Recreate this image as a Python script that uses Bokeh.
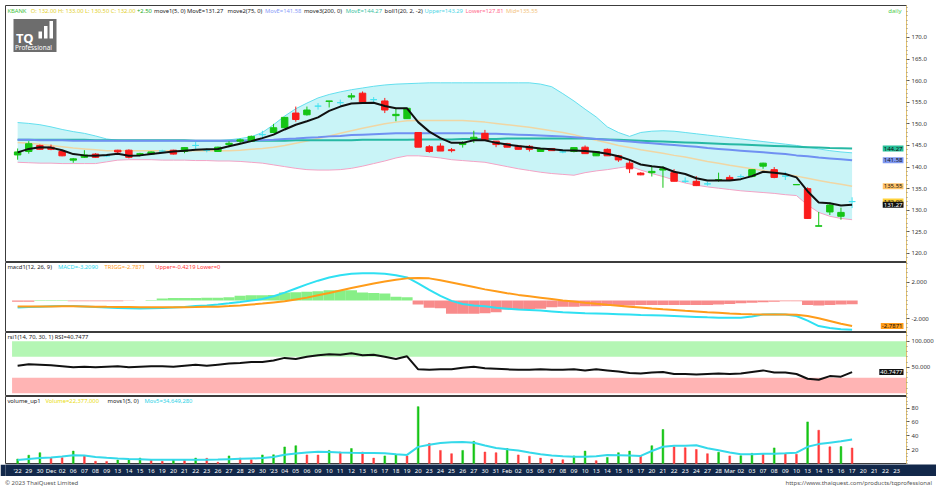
import numpy as np
from bokeh.plotting import figure
from bokeh.layouts import column
from bokeh.models import (Range1d, Label, FixedTicker, ColumnDataSource, PrintfTickFormatter,
                          BoxAnnotation, Div)
from bokeh.embed import file_html
from bokeh.resources import INLINE
from bokeh.core.properties import value

# ---------------- data ----------------
date_labels = ["'22", "29", "30", "Dec", "02", "06", "07", "08", "09", "13",
               "14", "15", "16", "19", "20", "21", "22", "23", "26", "27",
               "28", "29", "30", "'23", "04", "05", "06", "09", "10", "11",
               "12", "13", "16", "17", "18", "19", "20", "23", "24", "25",
               "26", "27", "30", "31", "Feb", "02", "03", "06", "07", "08",
               "09", "10", "13", "14", "15", "16", "17", "20", "21", "22",
               "23", "24", "27", "28", "Mar", "02", "03", "07", "08", "09",
               "10", "13", "14", "15", "16", "17", "20", "21", "22", "23"]

open_ = [142.8, 143.6, 145.0, 144.6, 143.6, 141.6, 142.25, 143.0, 142.6, 143.9,
         143.9, 142.9, 143.0, 143.7, 143.9, 143.6, 145.0, 143.9, 143.6, 145.2,
         146.0, 146.0, 147.5, 148.0, 149.1, 152.5, 152.1, 154.1, 155.2, 154.9,
         156.2, 157.1, 155.6, 155.3, 151.9, 151.2, 148.0, 144.7, 144.85, 144.0,
         145.2, 146.5, 147.8, 146.0, 145.4, 144.85, 144.8, 143.6, 144.3, 143.5,
         143.6, 144.6, 142.6, 144.1, 142.6, 140.9, 138.6, 138.7, 139.3, 138.7,
         136.7, 136.7, 136.1, 136.9, 137.6, 137.8, 137.8, 140.2, 139.4, 137.9,
         135.9, 135.0, 126.3, 129.6, 128.6, 132.0]
high = [144.3, 146.0, 145.2, 145.2, 143.8, 142.1, 143.9, 143.2, 142.9, 144.0,
        144.1, 143.3, 143.6, 144.0, 144.0, 144.6, 145.8, 144.4, 144.7, 146.0,
        146.6, 147.3, 148.4, 150.0, 151.6, 154.0, 154.0, 154.8, 155.3, 155.6,
        157.1, 157.5, 156.2, 156.0, 153.5, 153.6, 148.0, 145.1, 145.5, 144.4,
        146.0, 148.4, 148.6, 146.0, 145.6, 145.0, 145.1, 144.3, 144.4, 143.9,
        144.5, 145.0, 143.6, 144.3, 142.8, 141.5, 138.8, 140.3, 140.2, 139.5,
        137.6, 137.9, 136.6, 138.7, 138.1, 138.3, 139.4, 141.0, 140.0, 138.9,
        135.9, 135.3, 129.6, 131.8, 130.6, 133.0]
low = [141.7, 143.1, 144.0, 143.9, 142.5, 141.0, 142.1, 142.2, 142.3, 142.9,
       142.0, 142.5, 142.9, 143.4, 142.9, 143.2, 144.0, 143.4, 143.5, 144.6,
       145.5, 145.8, 146.6, 147.9, 149.0, 150.5, 151.9, 153.3, 153.8, 154.3,
       155.6, 155.0, 154.9, 152.5, 150.6, 151.2, 144.6, 143.3, 143.7, 143.4,
       144.5, 145.6, 146.3, 144.6, 144.6, 144.1, 143.6, 143.6, 143.8, 143.2,
       143.4, 143.1, 142.6, 142.6, 141.2, 138.6, 138.1, 137.8, 135.2, 136.7,
       136.3, 135.6, 135.7, 136.6, 136.9, 137.4, 137.6, 139.6, 137.4, 137.0,
       135.9, 128.0, 126.3, 128.9, 127.8, 130.5]
close = [143.5, 145.4, 144.1, 144.1, 142.6, 141.9, 142.8, 142.25, 142.6, 143.5,
         142.25, 143.1, 143.5, 143.7, 143.0, 144.5, 145.0, 143.9, 144.6, 145.5,
         146.3, 147.1, 147.5, 149.1, 151.5, 151.0, 153.2, 154.1, 155.3, 154.9,
         156.5, 155.0, 155.6, 153.2, 152.2, 153.6, 144.6, 143.6, 143.7, 143.8,
         145.6, 146.9, 146.3, 145.2, 144.6, 144.1, 144.1, 144.3, 143.8, 143.5,
         144.5, 143.1, 143.6, 142.6, 141.65, 139.6, 138.2, 139.0, 139.6, 136.7,
         136.7, 135.7, 136.1, 137.1, 136.9, 137.8, 139.4, 140.9, 137.6, 137.9,
         135.95, 128.1, 126.4, 131.2, 129.5, 132.0]

ma5 = [143.4, 144.2, 144.6, 144.5, 143.9, 143.0, 142.7, 142.6, 142.8, 143.1,
       142.6, 142.7, 143.0, 143.3, 143.6, 143.8, 144.0, 144.1, 144.2, 144.8,
       145.4, 146.0, 146.7, 147.5, 148.7, 149.8, 150.6, 151.5, 153.0, 154.0,
       154.7, 154.8, 154.9, 154.15, 153.6, 153.6, 150.4, 148.2, 146.7, 145.6,
       145.6, 146.2, 146.2, 145.6, 145.2, 144.85, 144.6, 144.3, 144.1, 143.9,
       143.85, 143.7, 143.5, 143.1, 142.5, 141.65, 140.6, 140.2, 139.9, 138.9,
       138.4, 137.4, 136.9, 136.9, 136.9, 137.2, 137.9, 138.9, 138.7, 138.4,
       137.6, 134.4, 131.8, 131.6, 131.1, 131.27]
ma75 = [146.3, 146.3, 146.2, 146.2, 146.2, 146.1, 146.1, 146.1, 146.1, 146.1,
        146.1, 146.1, 146.1, 146.1, 146.1, 146.1, 146.1, 146.1, 146.1, 146.1,
        146.1, 146.2, 146.2, 146.3, 146.5, 146.6, 146.8, 146.9, 147.1, 147.2,
        147.4, 147.5, 147.6, 147.7, 147.8, 147.8, 147.8, 147.8, 147.8, 147.8,
        147.8, 147.8, 147.7, 147.7, 147.6, 147.5, 147.4, 147.3, 147.2, 147.1,
        146.9, 146.7, 146.5, 146.3, 146.1, 145.9, 145.7, 145.5, 145.3, 145.1,
        144.9, 144.7, 144.4, 144.2, 144.0, 143.8, 143.6, 143.4, 143.2, 143.0,
        142.7, 142.5, 142.2, 142.0, 141.8, 141.58]
ma200 = [146.3, 146.3, 146.3, 146.3, 146.3, 146.3, 146.3, 146.2, 146.2, 146.2,
         146.2, 146.2, 146.2, 146.2, 146.2, 146.2, 146.1, 146.1, 146.1, 146.1,
         146.1, 146.1, 146.1, 146.1, 146.1, 146.2, 146.2, 146.2, 146.2, 146.2,
         146.2, 146.3, 146.3, 146.3, 146.3, 146.3, 146.4, 146.4, 146.4, 146.4,
         146.5, 146.5, 146.5, 146.5, 146.6, 146.6, 146.6, 146.6, 146.6, 146.6,
         146.6, 146.6, 146.5, 146.4, 146.3, 146.2, 146.1, 146.0, 145.9, 145.8,
         145.7, 145.6, 145.5, 145.4, 145.3, 145.2, 145.1, 145.0, 144.9, 144.8,
         144.7, 144.6, 144.5, 144.4, 144.35, 144.27]
boll_upper = [150.3, 150.1, 149.8, 149.3, 148.7, 148.2, 147.8, 147.2, 146.5, 146.2,
              146.1, 146.1, 146.1, 146.1, 146.1, 146.1, 146.1, 146.1, 146.1, 146.3,
              146.6, 147.0, 148.0, 149.8, 151.8, 153.5, 154.8, 156.0, 156.8, 157.4,
              157.9, 158.3, 158.7, 159.0, 159.2, 159.3, 159.4, 159.5, 159.5, 159.5,
              159.5, 159.5, 159.5, 159.5, 159.5, 159.5, 159.5, 159.2, 158.6, 157.0,
              155.3, 153.4, 151.6, 149.3, 148.0, 147.1, 148.0, 148.3, 148.4, 148.3,
              148.0, 147.7, 147.4, 147.1, 146.8, 146.5, 146.2, 145.9, 145.6, 145.3,
              145.0, 144.6, 144.2, 143.8, 143.5, 143.29]
boll_lower = [141.1, 141.0, 140.9, 140.9, 140.8, 140.8, 140.8, 140.8, 141.2, 141.6,
              141.7, 141.7, 141.7, 141.6, 141.6, 141.6, 141.5, 141.5, 141.4, 141.4,
              141.3, 141.1, 140.9, 140.5, 140.1, 139.7, 139.4, 139.3, 139.3, 139.4,
              139.7, 140.2, 140.8, 141.4, 142.1, 142.6, 142.6, 142.4, 142.1, 141.7,
              141.5, 141.3, 141.1, 140.6, 140.1, 139.6, 139.2, 138.8, 138.5, 138.3,
              138.1, 138.7, 139.1, 139.4, 139.8, 140.2, 139.3, 138.5, 137.8, 137.0,
              136.3, 135.8, 135.4, 135.1, 134.8, 134.5, 134.3, 134.1, 133.9, 133.6,
              133.4, 131.2, 129.5, 128.6, 128.1, 127.81]
boll_mid = [145.7, 145.5, 145.3, 145.0, 144.7, 144.4, 144.2, 144.0, 143.8, 143.8,
            143.8, 143.8, 143.8, 143.8, 143.8, 143.8, 143.8, 143.8, 143.8, 143.8,
            143.9, 144.1, 144.3, 144.6, 145.0, 145.5, 146.0, 146.6, 147.2, 147.8,
            148.4, 149.0, 149.5, 150.0, 150.4, 150.7, 150.8, 150.8, 150.8, 150.8,
            150.8, 150.6, 150.4, 150.1, 149.8, 149.5, 149.2, 148.8, 148.4, 148.0,
            147.5, 146.8, 146.2, 145.6, 145.0, 144.5, 144.0, 143.6, 143.2, 142.7,
            142.3, 141.8, 141.3, 140.9, 140.4, 140.0, 139.6, 139.2, 138.8, 138.3,
            137.9, 137.4, 136.9, 136.4, 136.0, 135.55]

macd = [-0.77, -0.72, -0.68, -0.64, -0.62, -0.62, -0.66, -0.72, -0.78, -0.82,
        -0.86, -0.88, -0.86, -0.82, -0.78, -0.72, -0.62, -0.55, -0.45, -0.32,
        -0.18, -0.02, 0.15, 0.45, 0.85, 1.3, 1.75, 2.15, 2.5, 2.75,
        2.9, 2.97, 2.97, 2.9, 2.75, 2.5, 1.85, 1.15, 0.5, -0.05,
        -0.4, -0.55, -0.65, -0.8, -0.9, -1.0, -1.05, -1.1, -1.2, -1.3,
        -1.35, -1.4, -1.42, -1.45, -1.5, -1.55, -1.6, -1.62, -1.65, -1.7,
        -1.75, -1.8, -1.85, -1.88, -1.9, -1.88, -1.75, -1.55, -1.5, -1.55,
        -1.7, -2.2, -2.8, -3.0, -3.15, -3.209]
trigg = [-0.67, -0.67, -0.66, -0.66, -0.65, -0.65, -0.66, -0.68, -0.7, -0.71,
         -0.72, -0.74, -0.75, -0.76, -0.76, -0.75, -0.73, -0.7, -0.68, -0.62,
         -0.55, -0.45, -0.35, -0.22, -0.1, 0.1, 0.3, 0.55, 0.8, 1.08,
         1.35, 1.6, 1.85, 2.05, 2.25, 2.4, 2.45, 2.4, 2.2, 1.95,
         1.7, 1.45, 1.2, 1.0, 0.78, 0.6, 0.45, 0.3, 0.15, 0.0,
         -0.12, -0.25, -0.37, -0.48, -0.58, -0.68, -0.78, -0.88, -0.97, -1.05,
         -1.13, -1.2, -1.28, -1.35, -1.42, -1.48, -1.52, -1.53, -1.53, -1.54,
         -1.57, -1.7, -1.95, -2.25, -2.55, -2.7871]
macd_hist = [-0.15, -0.15, 0.05, 0.05, 0.05, -0.1, -0.1, -0.1, -0.1, -0.1,
             -0.05, 0.0, 0.05, 0.2, 0.25, 0.25, 0.25, 0.3, 0.3, 0.35,
             0.5, 0.55, 0.55, 0.6, 0.85, 0.9, 0.95, 1.0, 1.1, 1.1,
             1.1, 0.85, 0.8, 0.75, 0.4, 0.35, -0.45, -0.8, -0.85, -1.45,
             -1.45, -1.45, -1.4, -1.3, -1.0, -1.0, -0.95, -0.9, -0.75, -0.7,
             -0.7, -0.65, -0.65, -0.6, -0.6, -0.55, -0.5, -0.5, -0.5, -0.5,
             -0.5, -0.5, -0.5, -0.45, -0.4, -0.3, -0.25, -0.2, -0.15, -0.1,
             -0.1, -0.5, -0.55, -0.5, -0.45, -0.4219]

rsi = [53, 56, 55, 54, 52, 50, 51, 50, 51, 52,
       50, 51, 52, 52, 51, 53, 55, 53, 55, 57,
       58, 60, 60, 63, 68, 66, 70, 73, 75, 74,
       77, 73, 74, 70, 66, 71, 46, 45, 46, 46,
       49, 51, 48, 47, 46, 45, 45, 46, 45, 45,
       46, 44, 46, 44, 42, 39, 38, 40, 41, 37,
       37, 36, 37, 38, 37, 38, 41, 44, 40, 40,
       37, 28, 26, 33, 32, 40.7477]
rsi_high, rsi_low = 70, 30

volume_m = [6.5, 12.0, 15.6, 8.7, 8.5, 17.9, 11.0, 3.2, 3.0, 5.1,
            5.3, 7.8, 5.1, 3.2, 5.1, 4.8, 7.8, 7.5, 1.8, 11.0,
            7.8, 5.5, 12.4, 12.6, 23.9, 25.7, 12.4, 12.2, 18.9, 16.6,
            21.6, 16.6, 7.8, 11.0, 13.3, 11.0, 82.0, 29.0, 18.9, 14.2,
            18.9, 32.0, 16.6, 15.6, 21.6, 12.4, 10.6, 7.8, 6.5, 5.5,
            11.0, 17.9, 4.1, 8.7, 15.6, 17.9, 11.0, 25.7, 49.0, 24.1,
            22.8, 20.2, 14.2, 16.3, 11.0, 11.3, 14.7, 14.4, 22.5, 14.7,
            13.3, 60.0, 48.0, 24.1, 24.4, 22.377]
vol_ma5 = [5.1, 6.5, 7.8, 8.7, 10.0, 12.0, 11.5, 9.5, 8.2, 7.2,
           6.6, 6.2, 5.6, 5.4, 5.3, 5.4, 5.5, 5.6, 5.8, 6.3,
           6.8, 7.3, 7.8, 9.5, 12.5, 14.5, 16.0, 16.8, 16.5, 16.0,
           15.6, 15.3, 15.0, 14.7, 13.5, 12.4, 24.0, 27.0, 29.6, 30.5,
           31.0, 30.0, 26.0, 22.5, 20.5, 18.9, 16.0, 13.5, 11.5, 10.5,
           9.8, 9.8, 10.5, 12.4, 12.0, 11.5, 11.0, 18.0, 24.1, 25.5,
           25.5, 26.4, 22.0, 19.0, 16.0, 13.5, 13.3, 14.0, 14.2, 14.8,
           15.6, 24.1, 28.0, 30.0, 32.0, 34.64928]

price_ticks = [120, 125, 130, 135, 140, 145, 150, 155, 160, 165, 170]
macd_ticks = [-2, 2]
rsi_ticks = [50, 100]
vol_ticks = [20, 40, 60, 80]

N = len(close)
for arr in (open_, high, low, ma5, ma75, ma200, boll_upper, boll_lower, boll_mid,
            macd, trigg, macd_hist, rsi, volume_m, vol_ma5):
    assert len(arr) == N, len(arr)

# ---------------- layout constants ----------------
FW, LB, RB = 901, 5, 30
FONT = "Noto Sans"
HFS = "5.8px"        # header text size
X0, X1 = -1.09, 79.89
xr = Range1d(X0, X1)
idx = list(range(N))

GREEN, RED, DOJI = "#15c415", "#fb1c1c", "#45e2f0"
ccol = [GREEN if c > o else (RED if c < o else DOJI) for o, c in zip(open_, close)]
src = ColumnDataSource(dict(
    x=idx, o=open_, h=high, l=low, c=close,
    top=[max(o, c) for o, c in zip(open_, close)],
    bot=[min(o, c) for o, c in zip(open_, close)], col=ccol,
    ma5=ma5, ma75=ma75, ma200=ma200, up=boll_upper, lo=boll_lower, mid=boll_mid,
    macd=macd, trigg=trigg, hist=macd_hist,
    hcol=["#87ef87" if v >= 0 else "#f88b8b" for v in macd_hist],
    rsi=rsi, vol=volume_m, volma=vol_ma5,
    vcol=[GREEN if (i == 0 or volume_m[i] > volume_m[i - 1]) else "#ff3a3a" for i in idx],
))


def base_fig(fh, yr, top=0):
    p = figure(frame_width=FW, frame_height=fh, x_range=xr, y_range=yr,
               output_backend="svg", toolbar_location=None, title=None,
               x_axis_location=None, y_axis_location="right",
               min_border_left=LB, min_border_right=RB, min_border_top=top,
               min_border_bottom=0, background_fill_color="white",
               border_fill_color="white")
    p.xgrid.visible = False
    p.ygrid.visible = False
    p.outline_line_color = "#3c3c3c"
    p.outline_line_width = 1
    return p


def style_axis(p, ticks, minor, fmt):
    ax = p.yaxis[0]
    ax.ticker = FixedTicker(ticks=ticks, minor_ticks=minor)
    ax.formatter = PrintfTickFormatter(format=fmt)
    ax.axis_line_color = "#e5c26a"
    ax.major_tick_line_color = "#555555"
    ax.minor_tick_line_color = "#888888"
    ax.major_tick_out = 3
    ax.major_tick_in = 0
    ax.minor_tick_out = 1
    ax.minor_tick_in = 0
    ax.major_label_standoff = 2
    ax.major_label_text_font = FONT
    ax.major_label_text_font_size = "6px"
    ax.major_label_text_color = "#333333"


def segs(p, fh, dy, items, size=HFS):
    for x, txt, col in items:
        p.add_layout(Label(x=x, y=fh - dy, x_units="screen", y_units="screen", text=txt,
                           text_color=col, text_font=FONT, text_font_size=size,
                           text_baseline="middle", text_align="left"))


def tag(p, yval, txt, bg, fg="#111111"):
    p.add_layout(Label(x=FW - 3, y=yval, x_units="screen", y_units="data", text=txt,
                       text_color=fg, text_font=FONT, text_font_size="6px",
                       text_baseline="middle", text_align="right",
                       background_fill_color=bg, padding=1))


def sbox(p, fh, left, right, top, bottom, color):
    # box given in pixels measured from the frame's top-left corner
    p.add_layout(BoxAnnotation(left=left, right=right, top=fh - top, bottom=fh - bottom,
                               left_units="screen", right_units="screen",
                               top_units="screen", bottom_units="screen",
                               fill_color=color, fill_alpha=1.0, line_color=None))


# ---------------- price panel ----------------
PH = 257
pp = base_fig(PH, Range1d(117.9, 177.4), top=5)
style_axis(pp, price_ticks, list(np.arange(118, 178, 1.0)), "%.1f")
pp.varea(x="x", y1="lo", y2="up", fill_color="#c9f4f7", source=src)
pp.line("x", "up", color="#63dfee", line_width=1, source=src)
pp.line("x", "lo", color="#f3a3c5", line_width=1, source=src)
pp.line("x", "mid", color="#f0d6a4", line_width=1.5, source=src)
pp.line("x", "ma200", color="#26b8a4", line_width=2, source=src)
pp.line("x", "ma75", color="#7090f2", line_width=2, source=src)
pp.segment(x0="x", y0="h", x1="x", y1="l", color="col", line_width=1, source=src)
pp.vbar(x="x", width=0.58, top="top", bottom="bot", fill_color="col", line_color="col",
        line_width=1, source=src)
pp.line("x", "ma5", color="#111111", line_width=2, source=src)

chg = close[-1] - close[-2]
segs(pp, PH, 5, [
    (1.9, "KBANK", "#3cbf3c"),
    (25.3, f"O: {open_[-1]:.2f} H: {high[-1]:.2f} L: {low[-1]:.2f} C: {close[-1]:.2f}", "#e2cf2a"),
    (131.5, f"{chg:+.2f}", "#22aa22"),
    (148.5, f"move1(5, 0) MovE={ma5[-1]:.2f}", "#1a1a1a"),
    (222.0, "move2(75, 0)", "#1a1a1a"),
    (259.5, f"MovE={ma75[-1]:.2f}", "#8a9cf8"),
    (298.4, "move3(200, 0)", "#1a1a1a"),
    (340.2, f"MovE={ma200[-1]:.2f}", "#3cbf9f"),
    (379.1, "boll1(20, 2, -2)", "#1a1a1a"),
    (418.9, f"Upper={boll_upper[-1]:.2f}", "#4fd6e6"),
    (460.0, f"Lower={boll_lower[-1]:.2f}", "#ff6b8e"),
    (500.5, f"Mid={boll_mid[-1]:.2f}", "#f3c27a"),
])
pp.add_layout(Label(x=FW - 5, y=PH - 5, x_units="screen", y_units="screen", text="daily",
                    text_color="#4ccc4c", text_font=FONT, text_font_size="6px",
                    text_baseline="middle", text_align="right"))
# logo (TQ Professional)
sbox(pp, PH, 8, 51, 13.5, 46.5, "#6d6d6d")
sbox(pp, PH, 33, 36.5, 26, 33, "white")
sbox(pp, PH, 38.5, 42, 20.5, 33, "white")
sbox(pp, PH, 44, 47.5, 15.5, 33, "white")
pp.add_layout(Label(x=10.5, y=PH - 32.5, x_units="screen", y_units="screen", text="TQ",
                    text_color="white", text_font=FONT, text_font_size="13px",
                    text_font_style="bold", text_baseline="alphabetic", text_align="left"))
pp.add_layout(Label(x=9.5, y=PH - 42, x_units="screen", y_units="screen", text="Professional",
                    text_color="white", text_font=FONT, text_font_size="6.4px",
                    text_baseline="alphabetic", text_align="left"))
# right value tags
tag(pp, ma200[-1], f"{ma200[-1]:.2f}", "#25bf98")
tag(pp, ma75[-1], f"{ma75[-1]:.2f}", "#7f98f2")
tag(pp, boll_mid[-1], f"{boll_mid[-1]:.2f}", "#ffc266")
tag(pp, close[-1], f"{close[-1]:.2f}", "#ffd23a")
tag(pp, ma5[-1], f"{ma5[-1]:.2f}", "#111111", fg="white")

# ---------------- MACD panel ----------------
MH = 70
pm = base_fig(MH, Range1d(-3.5, 4.13))
style_axis(pm, macd_ticks, list(np.arange(-3.5, 4.2, 0.5)), "%.3f")
pm.vbar(x="x", width=1.0, top="hist", bottom=0, fill_color="hcol", line_color=None, source=src)
pm.line("x", "macd", color="#2fe0f2", line_width=2, source=src)
pm.line("x", "trigg", color="#ff9c1a", line_width=2, source=src)
segs(pm, MH, 4.5, [
    (1.9, "macd1(12, 26, 9)", "#1a1a1a"),
    (52.5, f"MACD={macd[-1]:.4f}", "#27d6ee"),
    (99.1, f"TRIGG={trigg[-1]:.4f}", "#ff9c1a"),
    (149.7, f"Upper={macd_hist[-1]:.4f} Lower=0", "#ff3535"),
])
tag(pm, trigg[-1], f"{trigg[-1]:.4f}", "#ff9c1a")

# ---------------- RSI panel ----------------
RH = 64
pr = base_fig(RH, Range1d(-6.1, 116.7))
style_axis(pr, rsi_ticks, list(np.arange(0, 116, 10)), "%.3f")
pr.quad(left=[idx[0] - 0.5], right=[X1], bottom=[rsi_high], top=[100], fill_color="#b4f6b4", line_color=None)
pr.quad(left=[idx[0] - 0.5], right=[X1], bottom=[0], top=[rsi_low], fill_color="#ffb4b4", line_color=None)
pr.line("x", "rsi", color="#111111", line_width=2, source=src)
segs(pr, RH, 4.5, [(1.9, f"rsi1(14, {rsi_high}, {rsi_low}, 1) RSI={rsi[-1]:.4f}", "#1a1a1a")])
tag(pr, rsi[-1], f"{rsi[-1]:.4f}", "#111111", fg="white")

# ---------------- Volume panel ----------------
VH = 68
pv = base_fig(VH, Range1d(-1.4, 96.6))
style_axis(pv, vol_ticks, list(np.arange(0, 96, 5)), "%d")
pv.vbar(x="x", width=0.16, top="vol", bottom=0, fill_color="vcol", line_color="vcol",
        line_width=0.5, source=src)
pv.line("x", "volma", color="#35d9ea", line_width=2, source=src)
segs(pv, VH, 4, [
    (1.9, "volume_up1", "#1a1a1a"),
    (39.9, f"Volume={volume_m[-1] * 1e6:,.0f}", "#e9dc10"),
    (102.1, "movs1(5, 0)", "#1a1a1a"),
    (139.0, f"Mov5={vol_ma5[-1] * 1e6:,.0f}", "#2fd2e6"),
])

# ---------------- date strip ----------------
NAVY = "#12284a"
xr_d = Range1d(X0, X0 + (X1 - X0) * (FW + RB) / FW)
pd_ = figure(frame_width=FW + RB, frame_height=12, x_range=xr_d, y_range=Range1d(0, 1),
             output_backend="svg", toolbar_location=None, title=None,
             x_axis_location=None, y_axis_location=None,
             min_border_left=LB, min_border_right=0, min_border_top=0, min_border_bottom=0,
             background_fill_color=NAVY, border_fill_color=NAVY)
pd_.xgrid.visible = False
pd_.ygrid.visible = False
pd_.outline_line_color = None
pd_.text(x=list(range(len(date_labels))), y=[0.5] * len(date_labels), text=date_labels,
         text_color="white", text_font=value(FONT), text_font_size=value("6px"),
         text_align="center", text_baseline="middle")

# ---------------- footer (plain HTML text) ----------------
FH = 9
TOTAL_W = LB + FW + RB
footer = Div(
    width=TOTAL_W, height=FH,
    text=(f"<div style=\"position:relative;width:{TOTAL_W}px;height:{FH}px;"
          "font-family:'Noto Sans';font-size:6px;line-height:9px;color:#555555;"
          "white-space:nowrap;\">"
          "<span style=\"position:absolute;left:5px;top:0;\">© 2023 ThaiQuest Limited</span>"
          "<span style=\"position:absolute;right:4px;top:0;\">"
          "https://www.thaiquest.com/products/tqprofessional</span></div>"),
    styles={"margin": "0", "padding": "0"},
)

layout = column(pp, pm, pr, pv, pd_, footer, spacing=0)
open("out.html", "w").write(file_html(layout, INLINE))
